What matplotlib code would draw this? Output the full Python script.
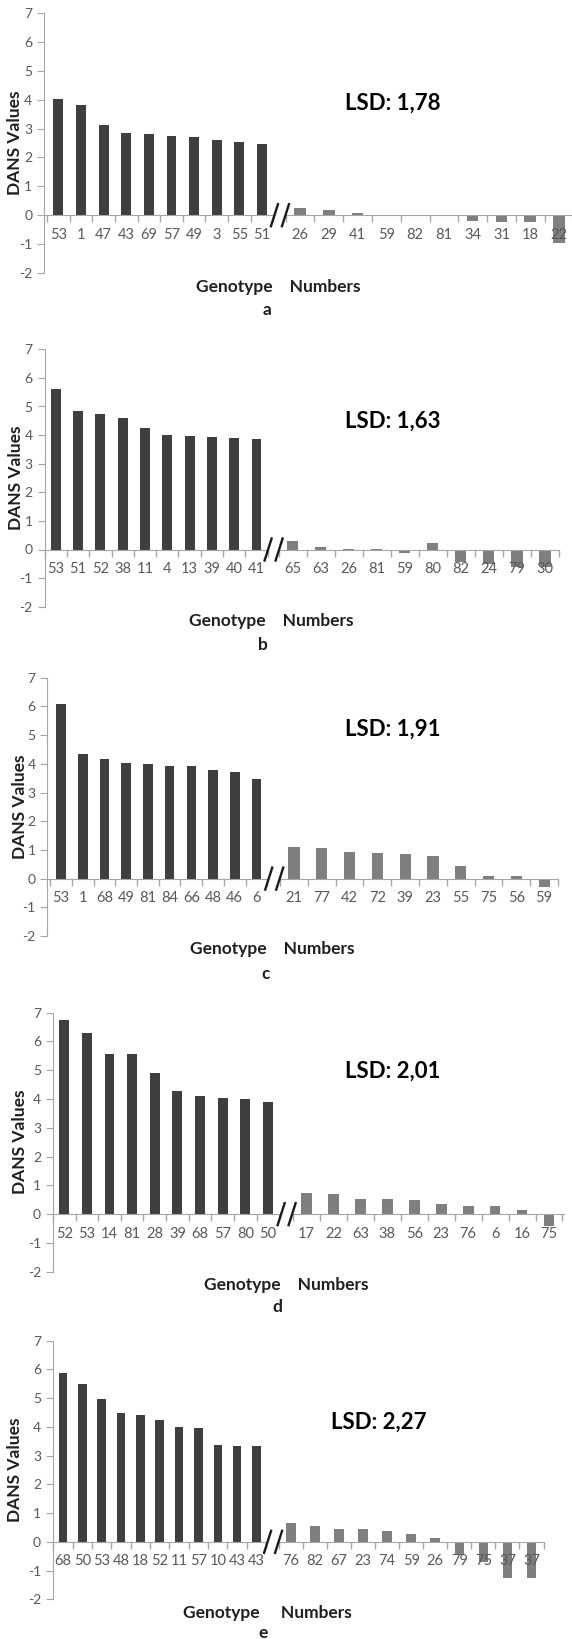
import matplotlib
matplotlib.use("Agg")
import matplotlib.pyplot as plt
from matplotlib.lines import Line2D

plt.rcParams['font.family'] = ['Lato', 'DejaVu Sans']

W, H, DPI = 572, 1639, 100

# ---------------- data ----------------
a_left_labels = ['53', '1', '47', '43', '69', '57', '49', '3', '55', '51']
a_left_values = [4.02, 3.82, 3.14, 2.86, 2.82, 2.73, 2.70, 2.60, 2.55, 2.48]
a_right_labels = ['26', '29', '41', '59', '82', '81', '34', '31', '18', '22']
a_right_values = [0.25, 0.17, 0.07, 0.01, 0.01, -0.03, -0.20, -0.25, -0.25, -0.95]

b_left_labels = ['53', '51', '52', '38', '11', '4', '13', '39', '40', '41']
b_left_values = [5.60, 4.85, 4.75, 4.60, 4.26, 4.00, 3.97, 3.93, 3.91, 3.87]
b_right_labels = ['65', '63', '26', '81', '59', '80', '82', '24', '79', '30']
b_right_values = [0.28, 0.10, 0.03, 0.02, -0.12, 0.23, -0.43, -0.49, -0.60, -0.62]

c_left_labels = ['53', '1', '68', '49', '81', '84', '66', '48', '46', '6']
c_left_values = [6.10, 4.34, 4.16, 4.03, 3.98, 3.92, 3.92, 3.79, 3.72, 3.48]
c_right_labels = ['21', '77', '42', '72', '39', '23', '55', '75', '56', '59']
c_right_values = [1.10, 1.08, 0.93, 0.90, 0.86, 0.80, 0.45, 0.09, 0.09, -0.31]

d_left_labels = ['52', '53', '14', '81', '28', '39', '68', '57', '80', '50']
d_left_values = [6.74, 6.28, 5.58, 5.58, 4.89, 4.28, 4.12, 4.04, 4.01, 3.90]
d_right_labels = ['17', '22', '63', '38', '56', '23', '76', '6', '16', '75']
d_right_values = [0.74, 0.70, 0.51, 0.51, 0.49, 0.36, 0.27, 0.27, 0.15, -0.42]

e_left_labels = ['68', '50', '53', '48', '18', '52', '11', '57', '10', '43', '43']
e_left_values = [5.89, 5.50, 4.98, 4.48, 4.41, 4.23, 3.98, 3.95, 3.37, 3.32, 3.32]
e_right_labels = ['76', '82', '67', '23', '74', '59', '26', '79', '75', '37', '37']
e_right_values = [0.64, 0.55, 0.43, 0.43, 0.36, 0.29, 0.12, -0.46, -0.70, -1.25, -1.25]

lsd_values = ['1,78', '1,63', '1,91', '2,01', '2,27']
panel_letters = ['a', 'b', 'c', 'd', 'e']
y_ticks = [-2, -1, 0, 1, 2, 3, 4, 5, 6, 7]
y_label = 'DANS Values'
x_labels = ['Genotype    Numbers'] * 4 + ['Genotype     Numbers']

panels_data = [
    (a_left_labels, a_left_values, a_right_labels, a_right_values),
    (b_left_labels, b_left_values, b_right_labels, b_right_values),
    (c_left_labels, c_left_values, c_right_labels, c_right_values),
    (d_left_labels, d_left_values, d_right_labels, d_right_values),
    (e_left_labels, e_left_values, e_right_labels, e_right_values),
]

# ---------------- layout (pixels) ----------------
# ax_x, c0, cN, r0, rN, re, y_top, y_bot, ylab_x, gn_x, gn_y, let_x, let_y, lsd_x, lsd_y
layouts = [
    (44.0, 58.4, 262.0, 300.0, 559.0, 573.4, 13.0, 273.0, 15, 278, 287, 267, 310, 345, 103),
    (44.5, 55.8, 256.5, 292.6, 545.4, 559.0, 349.3, 606.7, 16, 271, 621, 263, 645, 345, 421),
    (47.4, 61.0, 256.5, 294.0, 544.3, 558.0, 677.7, 936.0, 20, 272, 949, 266, 974, 345, 729),
    (52.9, 63.8, 268.0, 306.4, 549.0, 563.6, 1012.7, 1271.7, 20, 286, 1285, 277, 1307, 345, 1071),
    (52.9, 63.0, 256.5, 291.0, 531.5, 543.6, 1340.7, 1599.3, 15, 267, 1613, 263, 1633, 331, 1422),
]

DARK = '#3f3f3f'
LIGHT = '#7f7f7f'
AXC = '#a6a6a6'
TXT = '#595959'
LBL = '#1f1f1f'

fig = plt.figure(figsize=(W / DPI, H / DPI), dpi=DPI)


def rect(x0, x1, yt, yb):
    return [x0 / W, 1 - yb / H, (x1 - x0) / W, (yb - yt) / H]


def fx(x):
    return x / W


def fy(y):
    return 1 - y / H


def style_x(ax, n):
    ax.spines['bottom'].set_position(('data', 0))
    ax.spines['bottom'].set_color(AXC)
    ax.spines['top'].set_visible(False)
    ax.spines['right'].set_visible(False)
    ax.set_xticks([i - 0.5 for i in range(n + 1)], minor=True)
    ax.tick_params(axis='x', which='major', length=0, pad=9,
                   labelsize=10.5, labelcolor=TXT)
    ax.tick_params(axis='x', which='minor', length=5, width=1,
                   color=AXC, direction='out')


for (ll, lv, rl, rv), lay, lsd, let, xl in zip(panels_data, layouts, lsd_values,
                                                panel_letters, x_labels):
    (ax_x, c0, cN, r0, rN, re, yt, yb, ylx, gnx, gny, ltx, lty, lsx, lsy) = lay
    n = len(lv)
    s = (cN - c0) / (n - 1)
    Le = cN + s / 2
    axL = fig.add_axes(rect(ax_x, Le, yt, yb))
    axL.bar(range(n), lv, width=0.44, color=DARK, zorder=1)
    axL.set_xlim(-(c0 - ax_x) / s, n - 0.5)
    axL.set_ylim(-2, 7)
    axL.set_xticks(range(n))
    axL.set_xticklabels(ll)
    style_x(axL, n)
    axL.spines['left'].set_color(AXC)
    axL.set_yticks(y_ticks)
    axL.set_yticklabels([str(t) for t in y_ticks])
    axL.tick_params(axis='y', length=5, pad=3.5, color=AXC,
                    labelsize=10, labelcolor=TXT)
    axL.patch.set_alpha(0)

    m = len(rv)
    sr = (rN - r0) / (m - 1)
    Rs = r0 - sr / 2
    axR = fig.add_axes(rect(Rs, re, yt, yb))
    axR.bar(range(m), rv, width=0.40, color=LIGHT, zorder=1)
    axR.set_xlim(-0.5, (re - r0) / sr)
    axR.set_ylim(-2, 7)
    axR.set_xticks(range(m))
    axR.set_xticklabels(rl)
    style_x(axR, m)
    axR.spines['left'].set_visible(False)
    axR.yaxis.set_visible(False)
    axR.patch.set_alpha(0)

    # axis break marks
    y0 = yt + (yb - yt) * 7 / 9
    mid = (Le + Rs) / 2
    for cx in (mid - 5, mid + 6):
        fig.add_artist(Line2D([fx(cx - 3.5), fx(cx + 3.5)],
                              [fy(y0 + 11), fy(y0 - 11)],
                              transform=fig.transFigure, color='#1a1a1a', lw=1.7))

    # texts
    ymid = yt + (yb - yt) * 4.5 / 9
    fig.text(fx(ylx), fy(ymid), y_label, rotation=90, ha='center', va='center',
             fontsize=12.5, fontweight='bold', color=LBL)
    fig.text(fx(gnx), fy(gny), xl, ha='center', va='center',
             fontsize=12.5, fontweight='bold', color=LBL)
    fig.text(fx(ltx), fy(lty), let, ha='center', va='center',
             fontsize=12.5, fontweight='bold', color=LBL)
    fig.text(fx(lsx), fy(lsy), 'LSD: ' + lsd, ha='left', va='center',
             fontsize=16, fontweight='bold', color='black')

fig.savefig('out.png', dpi=DPI)
